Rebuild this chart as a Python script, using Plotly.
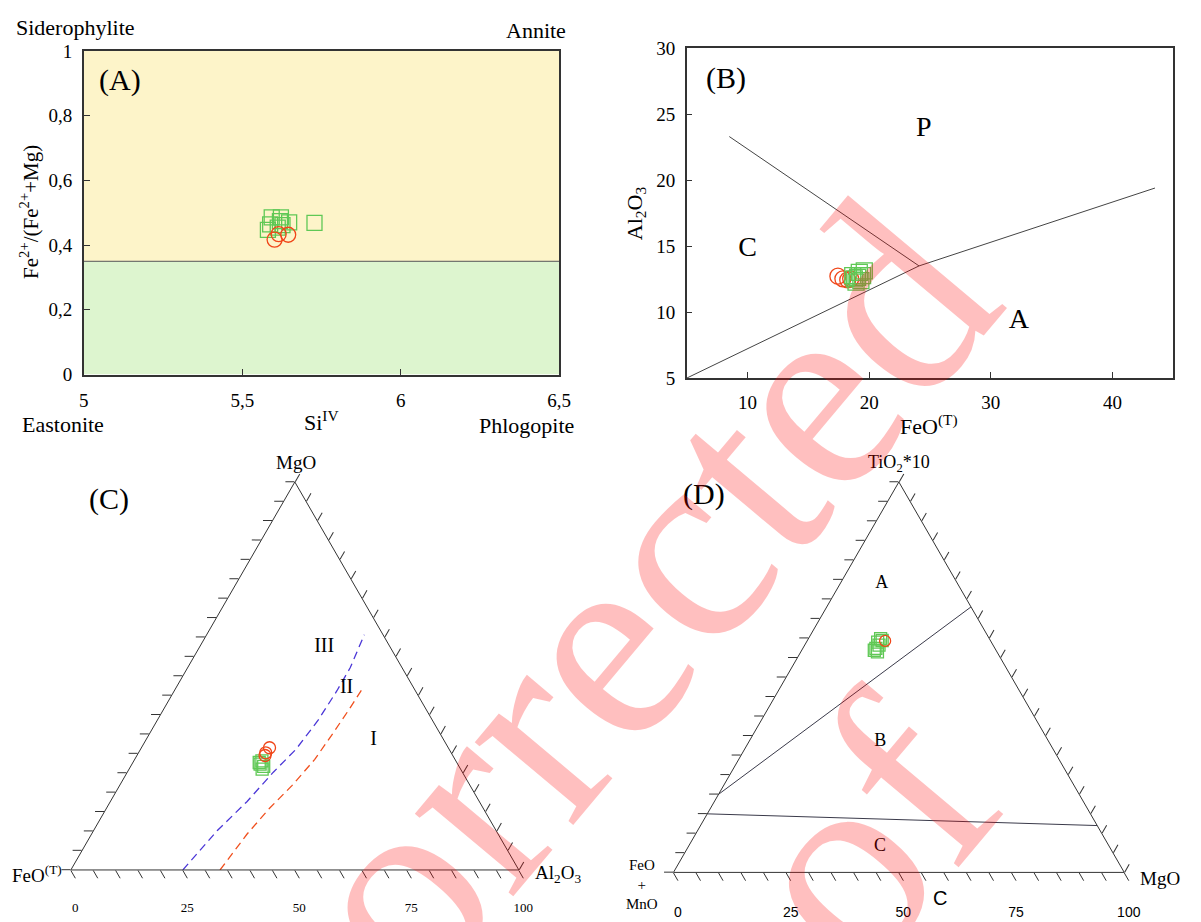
import plotly.graph_objects as go

W, H = 1201, 922
SERIF = "Liberation Serif, Times New Roman, serif"
SANS = "Liberation Sans, Arial, sans-serif"
INK = "#333333"
GREEN = "rgb(95,200,85)"
RED = "rgb(240,70,25)"

# ---------------- (A) Si(IV) vs Fe2+/(Fe2+ + Mg) ----------------
a_sq_si = [5.593, 5.622, 5.588, 5.619, 5.648, 5.581, 5.612, 5.728, 5.627]
a_sq_fe = [0.486, 0.486, 0.464, 0.474, 0.470, 0.447, 0.454, 0.469, 0.462]
a_ci_si = [5.602, 5.645, 5.615]
a_ci_fe = [0.417, 0.432, 0.434]
a_boundary = 0.35
a_xrange = [5, 6.5]
a_yrange = [0, 1]
a_xticks = [5, 5.5, 6, 6.5]
a_xticklabels = ["5", "5,5", "6", "6,5"]
a_yticks = [0, 0.2, 0.4, 0.6, 0.8, 1]
a_yticklabels = ["0", "0,2", "0,4", "0,6", "0,8", "1"]

# ---------------- (B) FeO(T) vs Al2O3 ----------------
b_sq_feo = [19.19, 19.46, 19.05, 18.78, 19.32, 18.65, 19.60, 18.92]
b_sq_al = [13.01, 12.76, 12.64, 12.52, 12.39, 12.76, 13.13, 12.27]
b_ci_feo = [17.43, 17.84, 18.24, 18.48]
b_ci_al = [12.72, 12.52, 12.44, 12.52]
b_lower_feo = [5.0, 24.1, 43.5]
b_lower_al = [5.0, 13.5, 19.4]
b_upper_feo = [8.5, 24.1]
b_upper_al = [23.3, 13.5]
b_field_names = ["P", "C", "A"]
b_field_feo = [24.5, 10.0, 32.3]
b_field_al = [23.9, 14.75, 9.3]
b_xrange = [5, 45]
b_yrange = [5, 30]
b_xticks = [10, 20, 30, 40]
b_yticks = [5, 10, 15, 20, 25, 30]

# ---------------- (C) MgO - FeO(T) - Al2O3 ternary ----------------
c_ci_mgo = [31.5, 30.2, 29.5]
c_ci_feo = [39.9, 41.4, 41.9]
c_ci_al = [28.6, 28.4, 28.6]
c_sq_mgo = [28.1, 27.3, 26.0, 27.7, 26.7]
c_sq_feo = [43.3, 44.1, 44.3, 44.1, 43.6]
c_sq_al = [28.6, 28.6, 29.7, 28.2, 29.7]
c_blue_mgo = [0, 10.1, 17.6, 25.2, 31.1, 38.6, 46.2, 52.1, 60.6]
c_blue_feo = [75.0, 62.3, 51.9, 42.2, 34.2, 25.5, 17.5, 11.6, 4.2]
c_blue_al = [25.0, 27.6, 30.5, 32.6, 34.7, 35.9, 36.3, 36.3, 35.2]
c_red_mgo = [0, 9.2, 15.9, 21.8, 28.5, 35.3, 41.1, 46.3]
c_red_feo = [66.7, 56.1, 47.7, 39.7, 31.3, 23.8, 17.5, 12.0]
c_red_al = [33.3, 34.7, 36.4, 38.5, 40.2, 40.9, 41.4, 41.7]
c_field_names = ["III", "II", "I"]
c_field_mgo = [57.5, 46.9, 33.4]
c_field_feo = [14.7, 15.0, 15.7]
c_field_al = [27.8, 38.1, 50.9]

# ---------------- (D) TiO2*10 - (FeO+MnO) - MgO ternary ----------------
d_ci_ti = [59.3]
d_ci_fe = [23.4]
d_ci_mg = [17.3]
d_sq_ti = [59.9, 59.0, 59.4, 57.4, 56.9, 56.5, 58.2]
d_sq_fe = [24.1, 25.2, 24.0, 26.4, 27.0, 26.5, 25.3]
d_sq_mg = [16.0, 15.8, 16.6, 16.2, 16.1, 17.0, 16.5]
d_ab_ti = [20, 68]
d_ab_fe = [80, 0]
d_ab_mg = [0, 32]
d_bc_ti = [15, 12]
d_bc_fe = [85, 0]
d_bc_mg = [0, 88]
d_field_names = ["A", "B", "C"]
d_field_ti = [74.0, 33.6, 6.6]
d_field_fe = [16.8, 37.3, 50.9]
d_field_mg = [9.2, 29.1, 42.5]

# ternary ticks: every 5 %, bottom edge labelled every 25 %
tern_steps = list(range(0, 101, 5))
bottom_label_vals = [0, 25, 50, 75, 100]
bottom_labels = ["0", "25", "50", "75", "100"]


def px(x, y):
    return x / W, 1 - y / H


fig = go.Figure()

# ---- panel A ----
fig.add_shape(type="rect", xref="x", yref="y", x0=a_xrange[0], x1=a_xrange[1],
              y0=a_boundary, y1=a_yrange[1], fillcolor="#fdf4c9", line_width=0, layer="below")
fig.add_shape(type="rect", xref="x", yref="y", x0=a_xrange[0], x1=a_xrange[1],
              y0=a_yrange[0], y1=a_boundary, fillcolor="#ddf5cf", line_width=0, layer="below")
fig.add_trace(go.Scatter(x=a_xrange, y=[a_boundary, a_boundary], mode="lines",
                         line=dict(color="#555555", width=1), xaxis="x", yaxis="y", hoverinfo="skip"))
fig.add_trace(go.Scatter(x=a_sq_si, y=a_sq_fe, mode="markers", xaxis="x", yaxis="y",
                         marker=dict(symbol="square-open", size=15, color=GREEN, line=dict(width=1.3))))
fig.add_trace(go.Scatter(x=a_ci_si, y=a_ci_fe, mode="markers", xaxis="x", yaxis="y",
                         marker=dict(symbol="circle-open", size=15, color=RED, line=dict(width=1.3))))

# ---- panel B ----
for fx, fy in [(b_lower_feo, b_lower_al), (b_upper_feo, b_upper_al)]:
    fig.add_trace(go.Scatter(x=fx, y=fy, mode="lines", xaxis="x2", yaxis="y2",
                             line=dict(color="#444444", width=1), hoverinfo="skip"))
fig.add_trace(go.Scatter(x=b_ci_feo, y=b_ci_al, mode="markers", xaxis="x2", yaxis="y2",
                         marker=dict(symbol="circle-open", size=16, color=RED, line=dict(width=1.3))))
fig.add_trace(go.Scatter(x=b_sq_feo, y=b_sq_al, mode="markers", xaxis="x2", yaxis="y2",
                         marker=dict(symbol="square-open", size=16, color=GREEN, line=dict(width=1.3))))
fig.add_trace(go.Scatter(x=b_field_feo, y=b_field_al, text=b_field_names, mode="text",
                         xaxis="x2", yaxis="y2", textfont=dict(family=SERIF, size=28, color="black")))

# ---- panel C ----
fig.add_trace(go.Scatterternary(a=c_blue_mgo, b=c_blue_feo, c=c_blue_al, mode="lines", subplot="ternary",
                                line=dict(color="rgb(75,55,215)", width=1.3, dash="8px,5px")))
fig.add_trace(go.Scatterternary(a=c_red_mgo, b=c_red_feo, c=c_red_al, mode="lines", subplot="ternary",
                                line=dict(color="rgb(240,80,30)", width=1.3, dash="8px,5px")))
fig.add_trace(go.Scatterternary(a=c_sq_mgo, b=c_sq_feo, c=c_sq_al, mode="markers", subplot="ternary",
                                marker=dict(symbol="square-open", size=12, color=GREEN, line=dict(width=1.3))))
fig.add_trace(go.Scatterternary(a=c_ci_mgo, b=c_ci_feo, c=c_ci_al, mode="markers", subplot="ternary",
                                marker=dict(symbol="circle-open", size=12, color=RED, line=dict(width=1.3))))
fig.add_trace(go.Scatterternary(a=c_field_mgo, b=c_field_feo, c=c_field_al, text=c_field_names,
                                mode="text", subplot="ternary",
                                textfont=dict(family=SERIF, size=20, color="black")))

# ---- panel D ----
for ta, tb, tc in [(d_ab_ti, d_ab_fe, d_ab_mg), (d_bc_ti, d_bc_fe, d_bc_mg)]:
    fig.add_trace(go.Scatterternary(a=ta, b=tb, c=tc, mode="lines", subplot="ternary2",
                                    line=dict(color="#3a3a4a", width=1)))
fig.add_trace(go.Scatterternary(a=d_sq_ti, b=d_sq_fe, c=d_sq_mg, mode="markers", subplot="ternary2",
                                marker=dict(symbol="square-open", size=12, color=GREEN, line=dict(width=1.3))))
fig.add_trace(go.Scatterternary(a=d_ci_ti, b=d_ci_fe, c=d_ci_mg, mode="markers", subplot="ternary2",
                                marker=dict(symbol="circle-open", size=11, color=RED, line=dict(width=1.3))))
fig.add_trace(go.Scatterternary(a=d_field_ti, b=d_field_fe, c=d_field_mg, text=d_field_names,
                                mode="text", subplot="ternary2",
                                textfont=dict(family=SERIF, size=18, color="black")))

cart_axis = dict(showline=True, linecolor=INK, linewidth=1.5, mirror=True, ticks="inside", ticklen=6,
                 tickcolor=INK, showgrid=False, zeroline=False,
                 tickfont=dict(family=SERIF, size=19, color="black"))


def tern_axis(label_font=None):
    ax = dict(showgrid=False, showline=True, linecolor=INK, linewidth=1, ticks="outside", ticklen=9,
              tickwidth=1, tickcolor=INK, tickmode="array", tickvals=tern_steps, title=dict(text=""),
              showticklabels=False)
    if label_font is not None:
        # bottom edge: b = 100 - c, so each position is labelled with its c value
        # (a leading blank line drops the numbers a little further below the ticks)
        ax.update(showticklabels=True, tickvals=[100 - v for v in tern_steps],
                  ticktext=["<br>" + bottom_labels[bottom_label_vals.index(v)] if v in bottom_label_vals else ""
                            for v in tern_steps],
                  tickfont=label_font)
    return ax


fig.update_layout(
    width=W, height=H, margin=dict(l=0, r=0, t=0, b=0),
    paper_bgcolor="white", plot_bgcolor="white", showlegend=False,
    font=dict(family=SERIF, color="black"),
    xaxis=dict(domain=[80 / W, 562 / W], range=a_xrange, tickvals=a_xticks, ticktext=a_xticklabels,
               anchor="y", ticklabelstandoff=8, **cart_axis),
    yaxis=dict(domain=[1 - 373 / H, 1 - 42 / H], range=a_yrange, tickvals=a_yticks,
               ticktext=a_yticklabels, anchor="x", ticklabelstandoff=6, **cart_axis),
    xaxis2=dict(domain=[691.5 / W, 1185 / W], range=b_xrange, tickvals=b_xticks,
                anchor="y2", ticklabelstandoff=6, **cart_axis),
    yaxis2=dict(domain=[1 - 376.7 / H, 1 - 39 / H], range=b_yrange, tickvals=b_yticks,
                anchor="x2", ticklabelstandoff=6, **cart_axis),
    ternary=dict(domain=dict(x=[65 / W, 523 / W], y=[1 - 880 / H, 1 - 483 / H]), sum=100,
                 bgcolor="white",
                 aaxis=tern_axis(), caxis=tern_axis(),
                 baxis=tern_axis(dict(family=SERIF, size=13, color="black"))),
    ternary2=dict(domain=dict(x=[677 / W, 1136.4 / W], y=[1 - 882.5 / H, 1 - 483 / H]), sum=100,
                  bgcolor="white",
                  aaxis=tern_axis(), caxis=tern_axis(),
                  baxis=tern_axis(dict(family=SANS, size=14, color="black"))),
)

labels = [
    # panel A
    ("Siderophylite", 72, 18, 22, SERIF, 0),
    ("Annite", 539, 21, 22, SERIF, 0),
    ("Eastonite", 59, 424, 22, SERIF, 0),
    ("Phlogopite", 529, 425, 22, SERIF, 0),
    ("Si<sup>IV</sup>", 321, 421, 22, SERIF, 0),
    ("(A)", 117, 72, 30, SERIF, 0),
    ("Fe<sup>2+</sup>/(Fe<sup>2+</sup>+Mg)", 25, 207, 21, SERIF, -90),
    # panel B
    ("(B)", 731, 70, 30, SERIF, 0),
    ("Al<sub>2</sub>O<sub>3</sub>", 640, 208, 22, SERIF, -90),
    ("FeO<sup>(T)</sup>", 937, 425, 22, SERIF, 0),
    # panel C
    ("MgO", 295, 463, 19, SERIF, 0),
    ("FeO<sup>(T)</sup>", 32, 884, 19, SERIF, 0),
    ("Al<sub>2</sub>O<sub>3</sub>", 561, 884, 19, SERIF, 0),
    ("(C)", 106, 500, 30, SERIF, 0),
    # panel D
    ("TiO<sub>2</sub>*10", 907, 464, 18, SERIF, 0),
    ("(D)", 709, 495, 30, SERIF, 0),
    ("FeO<br>+<br>MnO", 646, 895, 15, SERIF, 0),
    ("MgO", 1172, 889, 19, SERIF, 0),
    ("C", 948, 909, 20, SANS, 0),
]
for text, x, y, size, fam, ang in labels:
    ax_, ay_ = px(x, y)
    fig.add_annotation(text=text, x=ax_, y=ay_, xref="paper", yref="paper", showarrow=False,
                       xanchor="center", yanchor="middle", textangle=ang,
                       font=dict(family=fam, size=size, color="black"))

# diagonal proof stamp across the sheet
for text, x, y in [("Uncorrected", 494, 782), ("proof", 750, 988)]:
    ax_, ay_ = px(x, y)
    fig.add_annotation(text=text, x=ax_, y=ay_, xref="paper", yref="paper", showarrow=False,
                       xanchor="center", yanchor="middle", textangle=-50,
                       font=dict(family=SERIF, size=280, color="rgba(255,0,0,0.25)"))

fig.write_html("out.html", config=dict(displayModeBar=False))
